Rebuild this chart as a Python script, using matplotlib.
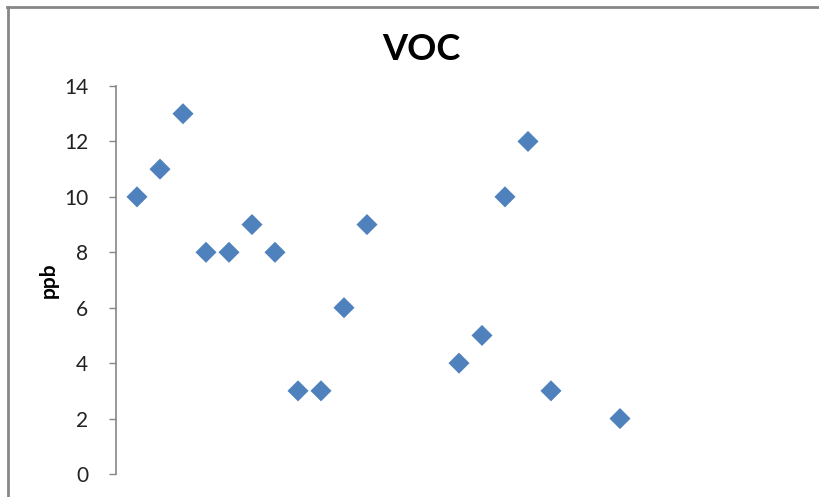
import matplotlib.pyplot as plt
from matplotlib.lines import Line2D

# sample number and VOC reading (ppb)
sample = [1, 2, 3, 4, 5, 6, 7, 8, 9, 10, 11, 15, 16, 17, 18, 19, 22]
voc = [10, 11, 13, 8, 8, 9, 8, 3, 3, 6, 9, 4, 5, 10, 12, 3, 2]
yticks = [0, 2, 4, 6, 8, 10, 12, 14]

plt.rcParams['font.family'] = ['Lato', 'DejaVu Sans']

W, H = 819, 497
fig = plt.figure(figsize=(W / 100, H / 100), dpi=100)

# axes: y axis at x=116px, y=0 at 474px, y=14 at 86px
left, right, top, bottom = 116, 800, 86, 474
ax = fig.add_axes([left / W, (H - bottom) / H, (right - left) / W, (bottom - top) / H])

step = 23.0
x0 = 1 - (137 - left) / step
ax.set_xlim(x0, x0 + (right - left) / step)
ax.set_ylim(0, 14)

ax.scatter(sample, voc, marker='D', s=115, color='#4F81BD', edgecolors='none', zorder=3)

ax.set_yticks(yticks)
ax.set_xticks([])
for s in ['top', 'right', 'bottom']:
    ax.spines[s].set_visible(False)
ax.spines['left'].set_color('#868686')
ax.spines['left'].set_linewidth(1.2)
ax.tick_params(axis='y', direction='out', length=5, width=1, color='#868686',
               labelsize=15, labelcolor='#222222', pad=15)

ax.set_ylabel('ppb', fontsize=15, fontweight='bold', labelpad=4)
fig.text(421 / W, (H - 50) / H, 'VOC', ha='center', va='center',
         fontsize=26, fontweight='bold')

# chart frame (top and left edges visible)
fig.add_artist(Line2D([7 / W, 1.0], [1 - 6.5 / H, 1 - 6.5 / H], color='#878787', lw=2,
                      transform=fig.transFigure))
fig.add_artist(Line2D([7.5 / W, 7.5 / W], [0, 1 - 6.5 / H], color='#878787', lw=2,
                      transform=fig.transFigure))

fig.savefig('out.png', dpi=100)
